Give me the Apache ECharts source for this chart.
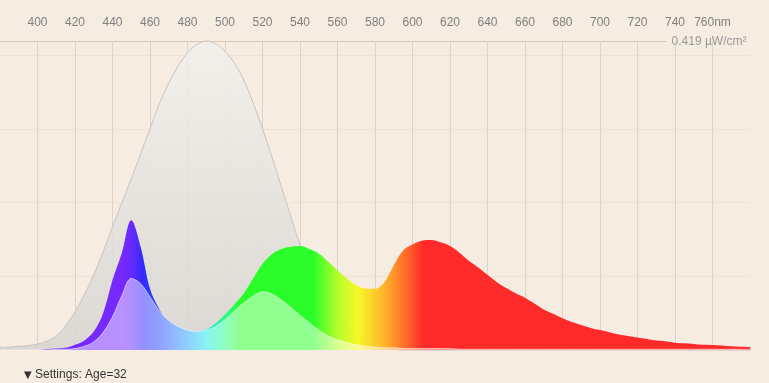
<!DOCTYPE html>
<html>
<head>
<meta charset="utf-8">
<script src="https://cdn.jsdelivr.net/npm/echarts@6/dist/echarts.min.js"></script>
<style>
html,body{margin:0;padding:0;background:#f7ece2;}
#chart{width:769px;height:383px;}
</style>
</head>
<body>
<div id="chart"></div>
<script>
// wavelengths in nm
const wavelengths = [380,385,390,395,400,405,410,415,420,425,430,435,440,445,450,455,460,465,470,475,480,485,490,495,500,505,510,515,520,525,530,535,540,545,550,555,560,565,570,575,580,585,590,595,600,605,610,615,620,625,630,635,640,645,650,655,660,665,670,675,680,685,690,695,700,705,710,715,720,725,730,735,740,745,750,755,760,765,770,775,780];
// gray sensitivity-like curve (µW/cm²)
const grayCurve = [0.003,0.004,0.005,0.006,0.008,0.012,0.019,0.033,0.052,0.075,0.102,0.133,0.167,0.200,0.232,0.266,0.300,0.334,0.362,0.385,0.403,0.414,0.419,0.415,0.405,0.389,0.366,0.335,0.300,0.262,0.222,0.182,0.142,0.110,0.085,0.067,0.052,0.035,0.020,0.010,0.005,0.002,0.001,0,0,0,0,0,0,0,0,0,0,0,0,0,0,0,0,0,0,0,0,0,0,0,0,0,0,0,0,0,0,0,0,0,0,0,0,0,0];
// light source spectrum
const spectrum = [0,0,0,0,0,0.001,0.002,0.003,0.007,0.013,0.025,0.050,0.095,0.132,0.176,0.140,0.083,0.055,0.037,0.028,0.025,0.025,0.028,0.036,0.048,0.062,0.077,0.097,0.117,0.130,0.137,0.140,0.141,0.137,0.131,0.120,0.108,0.097,0.088,0.083,0.083,0.092,0.115,0.135,0.143,0.148,0.149,0.146,0.141,0.132,0.121,0.112,0.102,0.092,0.084,0.077,0.071,0.063,0.055,0.049,0.043,0.038,0.034,0.030,0.027,0.024,0.021,0.019,0.017,0.015,0.013,0.012,0.010,0.009,0.008,0.007,0.0068,0.006,0.005,0.0045,0.004];
// weighted (effective) spectrum
const weighted = [0,0,0,0,0,0,0.001,0.001,0.002,0.005,0.011,0.024,0.045,0.074,0.097,0.090,0.072,0.053,0.040,0.032,0.027,0.025,0.027,0.032,0.041,0.053,0.064,0.073,0.079,0.076,0.068,0.058,0.047,0.037,0.027,0.019,0.014,0.010,0.007,0.005,0.004,0.003,0.003,0.002,0.002,0.002,0.002,0.002,0.002,0.001,0.001,0.001,0.001,0.001,0.001,0.001,0.001,0.001,0.001,0.001,0.001,0.001,0.001,0.001,0.001,0.001,0.001,0.001,0.001,0.001,0.001,0.001,0.001,0.001,0.001,0.001,0.001,0.001,0.001,0.001,0.001];
const xTicks = [400,420,440,460,480,500,520,540,560,580,600,620,640,660,680,700,720,740,760];
const X_MIN = 380, X_MAX = 780;
const Y_MAX = 0.419;
const Y_UNIT = 'µW/cm²';
const X_UNIT = 'nm';
const AGE = 32;
const LINE_END = 735.5;

const colorStops = [[380,'#7020ff'],[446,'#7020ff'],[451,'#5a20ff'],[456,'#2a20ff'],[465,'#2040ff'],[478,'#2090ff'],[490,'#10e8e8'],[500,'#20ff80'],[508,'#20ff20'],[547,'#20ff20'],[560,'#b0ff20'],[571,'#f8f820'],[585,'#ffb020'],[597,'#ff6020'],[606,'#ff2020'],[780,'#ff2020']];

function mixWhite(hex, f){
  const n = parseInt(hex.slice(1),16);
  const r=(n>>16)&255,g=(n>>8)&255,b=n&255;
  const m=c=>Math.round(c+(255-c)*f);
  return 'rgb('+m(r)+','+m(g)+','+m(b)+')';
}
function grad(f){
  return new echarts.graphic.LinearGradient(0,0,1,0, colorStops.map(s=>({offset:(s[0]-X_MIN)/(X_MAX-X_MIN), color: f? mixWhite(s[1],f): s[1]})));
}
const pair = arr => wavelengths.map((w,i)=>[w,arr[i]]);

const chart = echarts.init(document.getElementById('chart'));
const FONT = 'Liberation Sans, Arial, sans-serif';
chart.setOption({
  animation:false,
  backgroundColor:'#f7ece2',
  title:{
    text:'{a|▼} Settings: Age='+AGE,
    left:19, top:364,
    textStyle:{fontSize:12,color:'#333',fontWeight:'normal',fontFamily:FONT,
      rich:{a:{fontSize:10,color:'#333',fontFamily:'DejaVu Sans'}}}
  },
  grid:{left:0,right:19,top:41,bottom:33,outerBoundsMode:'none',containLabel:false},
  xAxis:{
    type:'value',position:'top',min:X_MIN,max:X_MAX,interval:20,
    axisLine:{show:false},
    axisTick:{show:true,length:4,lineStyle:{color:'#ddd3c9'}},
    axisLabel:{margin:12,color:'#808080',fontSize:12,fontFamily:FONT,
      formatter:v=>{ if(xTicks.indexOf(v)<0) return ''; return v===760? v+X_UNIT : String(v);} },
    splitLine:{show:true,showMinLine:false,showMaxLine:false,lineStyle:{color:'#ddd3c9',width:1}}
  },
  yAxis:{
    type:'value',min:0,max:Y_MAX,interval:0.1,
    axisLine:{show:false},axisTick:{show:false},axisLabel:{show:false},
    splitLine:{show:true,showMinLine:false,showMaxLine:false,lineStyle:{color:'#eee3d8'}}
  },
  series:[
    {
      type:'line',data:pair(grayCurve),smooth:0.35,symbol:'none',z:2,clip:false,
      lineStyle:{color:'#c9c4bd',width:1},
      areaStyle:{opacity:0.85,color:new echarts.graphic.LinearGradient(0,0,0,1,[{offset:0,color:'#f2f1ed'},{offset:1,color:'#d7d4d0'}])},
      markLine:{
        silent:true,symbol:['none','none'],
        lineStyle:{color:'#d6cabe',width:1,type:'solid',opacity:1},
        label:{show:true,position:'end',distance:5,color:'#999',fontSize:12,fontFamily:FONT,formatter:Y_MAX+' '+Y_UNIT,offset:[0,1]},
        data:[[{coord:[X_MIN,Y_MAX]},{coord:[LINE_END,Y_MAX]}]]
      }
    },
    {
      type:'line',data:pair(spectrum),smooth:0.35,symbol:'none',z:3,
      lineStyle:{width:0},
      areaStyle:{opacity:0.95,color:grad(0)}
    },
    {
      type:'line',data:pair(weighted),smooth:0.35,symbol:'none',z:4,
      lineStyle:{width:1,color:'rgba(255,255,255,0.55)'},
      areaStyle:{opacity:1,color:grad(0.5)}
    }
  ]
});
</script>
</body>
</html>
